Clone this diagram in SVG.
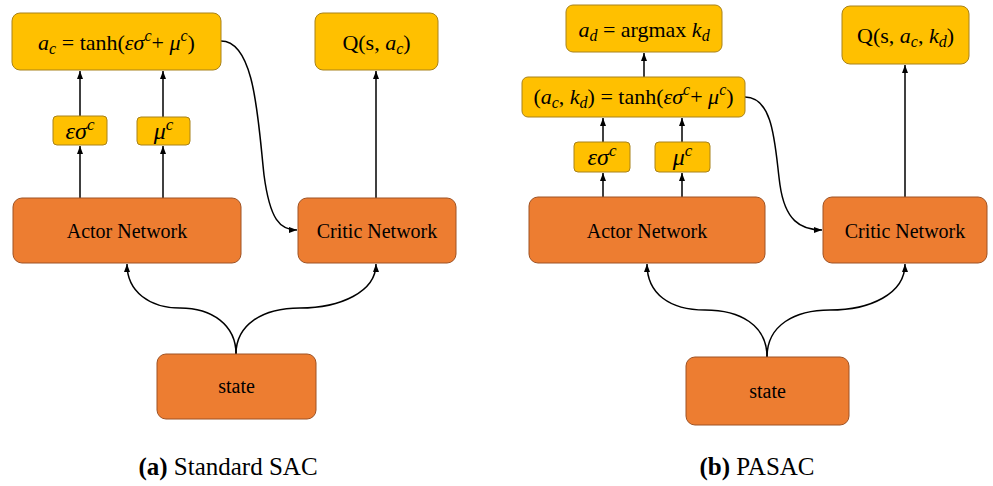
<svg xmlns="http://www.w3.org/2000/svg" width="993" height="486" viewBox="0 0 993 486">
<style>
.y{fill:#FFC000;stroke:#A8821A;stroke-width:1}
.o{fill:#ED7D31;stroke:#9E5224;stroke-width:1}
.t{font-family:"Liberation Serif","Times New Roman",serif;font-size:20px;fill:#000;text-anchor:middle}
.m{font-family:"Liberation Serif","Times New Roman",serif;font-size:22px;fill:#000;text-anchor:middle}
.s{font-family:"Liberation Serif","Times New Roman",serif;font-size:24px;fill:#000;text-anchor:middle}
.i{font-style:italic}
.cap{font-family:"Liberation Serif","Times New Roman",serif;font-size:25px;fill:#000;text-anchor:middle}
.c{fill:none;stroke:#000;stroke-width:1.5}
</style>
<defs>
<marker id="ah" viewBox="0 0 8 6" refX="8" refY="3" markerWidth="8" markerHeight="6" markerUnits="userSpaceOnUse" orient="auto">
<path d="M0,0 L8,3 L0,6 z" fill="#000"/>
</marker>
</defs>
<g id="connectors">
<path class="c" marker-end="url(#ah)" d="M80,198 L80,146"/>
<path class="c" marker-end="url(#ah)" d="M80,116 L80,71"/>
<path class="c" marker-end="url(#ah)" d="M163,198 L163,146"/>
<path class="c" marker-end="url(#ah)" d="M163,117 L163,71"/>
<path class="c" marker-end="url(#ah)" d="M376,198 L376,71"/>
<path class="c" marker-end="url(#ah)" d="M221,41 C255,41 258,120 264,175 C270,220 280,230 297,230"/>
<path class="c" marker-end="url(#ah)" d="M236,354 C236,325 212,308 180,308 C150,308 127,292 127,264"/>
<path class="c" marker-end="url(#ah)" d="M236,354 C236,325 262,308 300,308 C340,308 376,292 376,264"/>
<path class="c" marker-end="url(#ah)" d="M603,197 L603,173"/>
<path class="c" marker-end="url(#ah)" d="M603,142 L603,118"/>
<path class="c" marker-end="url(#ah)" d="M682,197 L682,173"/>
<path class="c" marker-end="url(#ah)" d="M682,142 L682,118"/>
<path class="c" marker-end="url(#ah)" d="M644,77 L644,53"/>
<path class="c" marker-end="url(#ah)" d="M905,197 L905,65"/>
<path class="c" marker-end="url(#ah)" d="M745,97 C775,97 775,150 780,185 C785,220 800,230 822,230"/>
<path class="c" marker-end="url(#ah)" d="M767,357 C767,325 740,310 705,310 C670,310 647,294 647,264"/>
<path class="c" marker-end="url(#ah)" d="M767,357 C767,325 795,310 830,310 C870,310 905,294 905,264"/>
</g>
<g id="ac">
<rect class="y" x="12" y="13" width="209" height="57" rx="8"/>
<text class="m" x="116.5" y="50"><tspan class="i">a</tspan><tspan class="i" font-size="16" dy="4">c</tspan><tspan dy="-4"> = tanh(</tspan><tspan class="i">εσ</tspan><tspan class="i" font-size="16" dy="-9">c</tspan><tspan dy="9">+ </tspan><tspan class="i">μ</tspan><tspan class="i" font-size="16" dy="-9">c</tspan><tspan dy="9">)</tspan></text>
</g>
<g id="q1">
<rect class="y" x="315" y="13" width="123" height="57" rx="8"/>
<text class="m" x="376.5" y="50">Q(s, <tspan class="i">a</tspan><tspan class="i" font-size="16" dy="4">c</tspan><tspan dy="-4">)</tspan></text>
</g>
<g id="es1">
<rect class="y" x="53" y="116" width="54" height="29" rx="4"/>
<text class="s" x="80" y="139"><tspan class="i">εσ</tspan><tspan class="i" font-size="17" dy="-9">c</tspan></text>
</g>
<g id="mu1">
<rect class="y" x="137" y="117" width="53" height="28" rx="4"/>
<text class="s" x="163.5" y="139"><tspan class="i">μ</tspan><tspan class="i" font-size="17" dy="-9">c</tspan></text>
</g>
<g id="actor1">
<rect class="o" x="13" y="198" width="228" height="65" rx="9"/>
<text class="t" x="127" y="238">Actor Network</text>
</g>
<g id="critic1">
<rect class="o" x="298" y="198" width="158" height="65" rx="9"/>
<text class="t" x="377" y="238">Critic Network</text>
</g>
<g id="state1">
<rect class="o" x="157" y="354" width="159" height="65" rx="9"/>
<text class="t" x="236.5" y="393">state</text>
</g>
<text class="cap" x="228" y="475"><tspan font-weight="bold">(a)</tspan> Standard SAC</text>
<g id="ad">
<rect class="y" x="566" y="5" width="156" height="47" rx="7"/>
<text class="m" x="644" y="37"><tspan class="i">a</tspan><tspan class="i" font-size="16" dy="4">d</tspan><tspan dy="-4"> = argmax </tspan><tspan class="i">k</tspan><tspan class="i" font-size="16" dy="4">d</tspan></text>
</g>
<g id="q2">
<rect class="y" x="842" y="6" width="127" height="58" rx="8"/>
<text class="m" x="905.5" y="43">Q(s, <tspan class="i">a</tspan><tspan class="i" font-size="16" dy="4">c</tspan><tspan dy="-4">, </tspan><tspan class="i">k</tspan><tspan class="i" font-size="16" dy="4">d</tspan><tspan dy="-4">)</tspan></text>
</g>
<g id="ack">
<rect class="y" x="522" y="77" width="223" height="40" rx="6"/>
<text class="m" x="633.5" y="104">(<tspan class="i">a</tspan><tspan class="i" font-size="16" dy="4">c</tspan><tspan dy="-4">, </tspan><tspan class="i">k</tspan><tspan class="i" font-size="16" dy="4">d</tspan><tspan dy="-4">) = tanh(</tspan><tspan class="i">εσ</tspan><tspan class="i" font-size="16" dy="-9">c</tspan><tspan dy="9">+ </tspan><tspan class="i">μ</tspan><tspan class="i" font-size="16" dy="-9">c</tspan><tspan dy="9">)</tspan></text>
</g>
<g id="es2">
<rect class="y" x="574" y="142" width="56" height="30" rx="4"/>
<text class="s" x="602" y="165"><tspan class="i">εσ</tspan><tspan class="i" font-size="17" dy="-9">c</tspan></text>
</g>
<g id="mu2">
<rect class="y" x="655" y="142" width="55" height="30" rx="4"/>
<text class="s" x="682.5" y="165"><tspan class="i">μ</tspan><tspan class="i" font-size="17" dy="-9">c</tspan></text>
</g>
<g id="actor2">
<rect class="o" x="529" y="197" width="236" height="66" rx="9"/>
<text class="t" x="647" y="238">Actor Network</text>
</g>
<g id="critic2">
<rect class="o" x="823" y="197" width="164" height="66" rx="9"/>
<text class="t" x="905" y="238">Critic Network</text>
</g>
<g id="state2">
<rect class="o" x="686" y="357" width="163" height="68" rx="9"/>
<text class="t" x="767.5" y="398">state</text>
</g>
<text class="cap" x="757" y="475"><tspan font-weight="bold">(b)</tspan> PASAC</text>
</svg>
